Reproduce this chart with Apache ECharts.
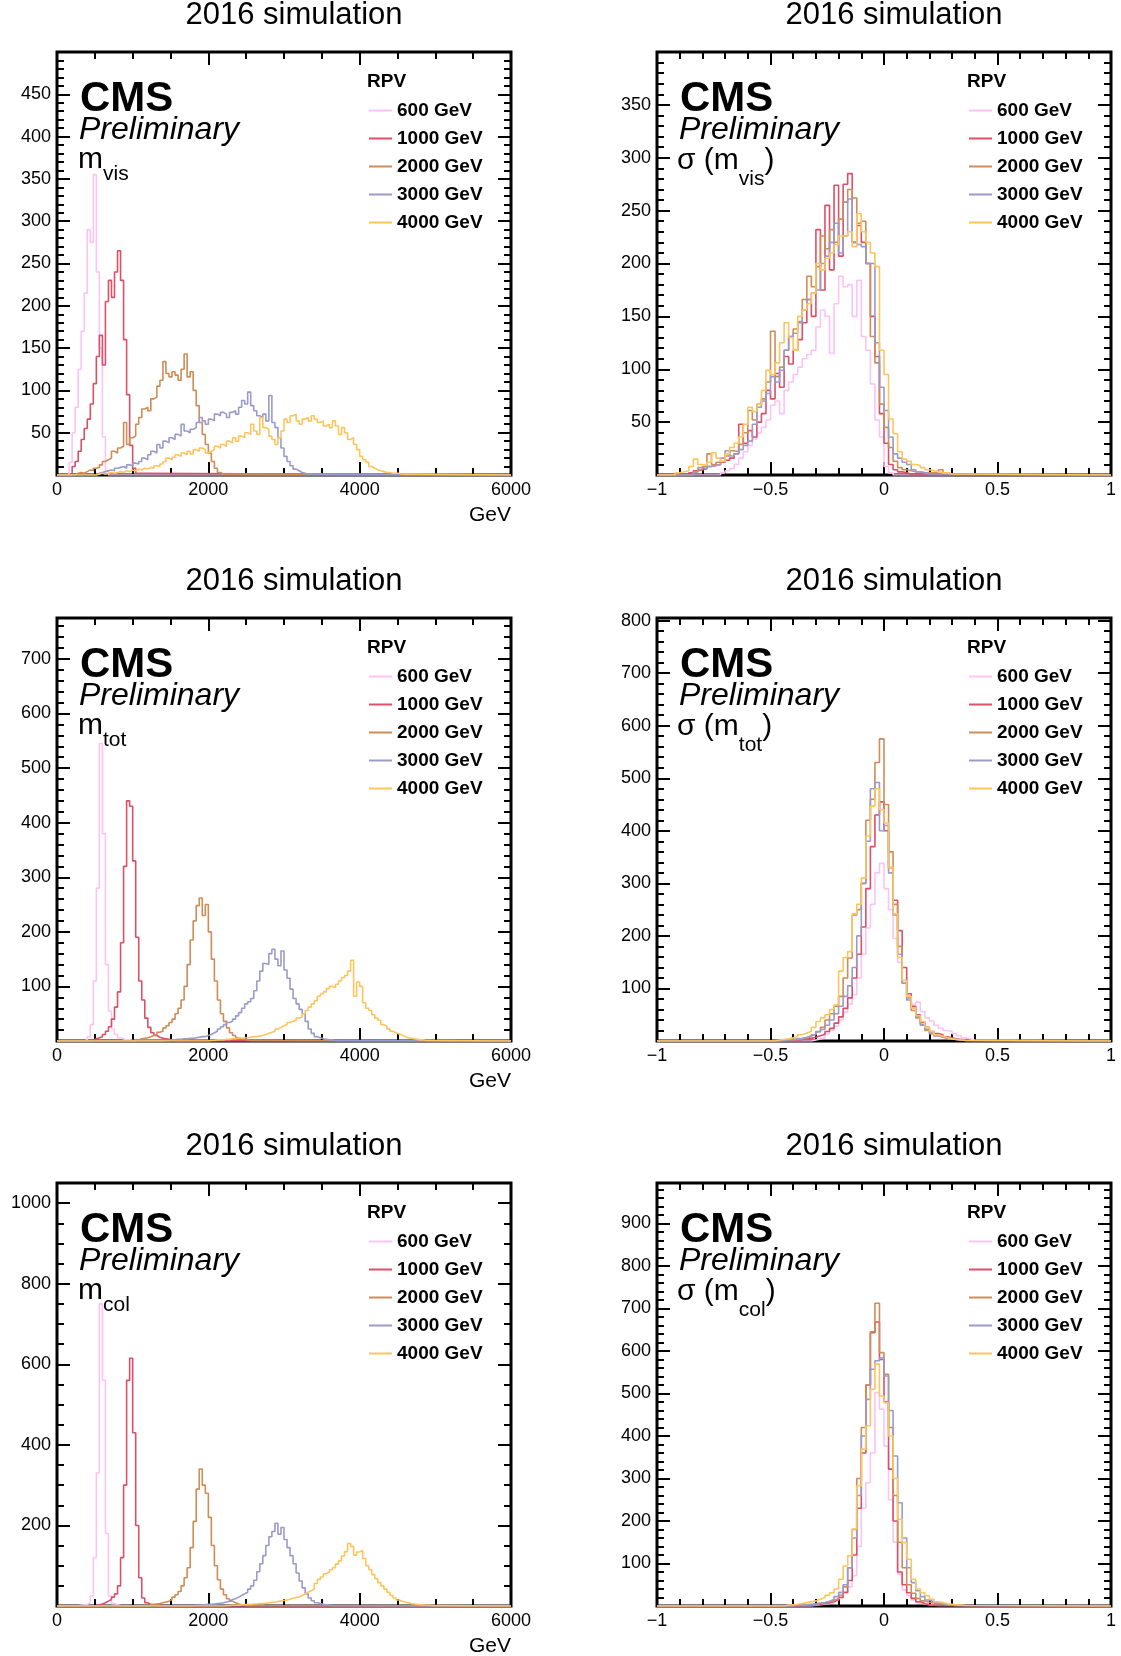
<!DOCTYPE html>
<html><head><meta charset="utf-8">
<script src="https://cdn.jsdelivr.net/npm/echarts@6.0.0/dist/echarts.min.js"></script>
<style>html,body{margin:0;padding:0;background:#fff}#c{width:1121px;height:1656px}</style>
</head><body><div id="c"></div>
<script>
// ---------------- DATA ----------------
const massNames = ['600 GeV','1000 GeV','2000 GeV','3000 GeV','4000 GeV'];
const massBinWidth = 40;      // GeV
const resBinWidth = 0.02;

// m_vis : first bin lower edge per sample, then counts
const mvisStart = [160, 200, 240, 520, 520];
const mvis600  = [15,50,80,125,170,215,290,275,355,240,150,45,5];
const mvis1000 = [10,16,28,42,55,66,84,108,140,165,130,205,230,210,240,265,230,160,95,35,8,2];
const mvis2000 = [2,3,2,4,6,5,8,9,12,16,18,20,28,26,32,34,62,36,44,46,60,68,78,80,76,90,92,105,112,134,120,116,122,118,112,125,143,116,122,100,82,62,48,36,26,16,8,3,1];
const mvis3000 = [2,3,4,5,6,5,8,9,10,8,12,11,14,13,16,20,18,24,28,26,36,32,40,38,44,42,48,46,60,52,50,54,56,62,68,64,60,66,64,72,70,74,72,68,74,76,72,80,88,84,98,82,76,70,68,72,64,94,62,56,44,32,22,16,11,7,5,3,2,1,1];
const mvis4000 = [1,2,1,2,3,2,3,4,3,5,4,6,5,7,6,8,7,9,8,11,10,13,16,20,18,21,24,22,26,24,28,25,30,28,32,30,26,28,30,34,32,36,34,40,38,44,40,46,44,50,48,60,52,48,68,56,54,46,42,36,44,52,66,62,70,72,64,60,66,68,64,70,66,62,64,58,60,56,64,58,48,56,50,42,44,36,30,22,18,15,10,8,6,5,4,3,3,2,2,2,1,1,1,1,1];

// m_tot
const mtotStart = [360, 440, 1040, 1400, 2000];
const mtot600  = [2,8,30,110,280,545,380,140,55,22,12,6,4,2,2,1,1];
const mtot1000 = [2,4,6,8,12,18,26,40,62,90,180,320,440,430,330,190,110,75,42,25,15,10,7,5,4,3,2,1];
const mtot2000 = [2,4,5,6,8,10,12,16,18,24,28,34,40,50,60,75,100,140,185,220,248,262,230,250,200,150,110,75,50,36,24,15,10,6,4,3,2,1];
const mtot3000 = [1,1,2,2,3,3,4,4,5,5,6,7,8,8,10,12,15,18,22,26,30,34,36,40,46,52,60,68,72,78,92,110,128,142,140,160,168,150,138,165,130,115,95,78,68,58,50,36,22,14,8,6,4,3,2,2,1,1];
const mtot4000 = [1,1,2,2,2,3,3,4,4,5,5,6,6,7,8,8,9,10,12,14,16,18,22,25,28,30,34,36,38,42,44,50,56,62,68,74,82,86,90,96,100,98,104,110,116,120,128,148,82,108,100,70,60,56,48,42,38,30,27,22,18,15,13,11,8,6,5,4,3,2,2,1,1,1];

// m_col
const mcolStart = [280, 520, 1200, 1800, 2200];
const mcol600  = [2,3,4,8,25,120,330,750,560,180,25,6,3,1];
const mcol1000 = [3,5,8,12,16,22,30,50,120,300,560,615,430,200,70,20,8,4,2,1];
const mcol2000 = [3,4,5,6,8,10,12,16,22,28,36,50,70,95,145,210,290,340,300,280,220,150,100,65,42,28,18,12,8,5,3,2,1];
const mcol3000 = [2,2,3,3,4,4,5,6,7,8,10,12,16,18,22,26,30,34,42,50,64,85,105,125,150,172,185,205,178,195,165,145,125,105,82,62,45,30,20,13,8,6,4,3,2,1];
const mcol4000 = [1,1,2,2,2,3,3,4,4,5,5,6,6,7,8,9,10,11,12,14,15,17,19,21,22,26,30,34,38,42,56,66,72,80,84,90,95,104,112,124,135,155,148,126,134,138,118,100,90,78,68,58,50,42,34,26,20,15,12,10,8,6,5,4,3,3,2,2,1,1];

// sigma(m_vis)
const smvisStart = [-0.72, -0.86, -0.84, -0.84, -0.92];
const smvis600  = [2,4,6,10,16,22,28,34,40,45,52,66,70,58,80,88,95,102,110,114,118,140,156,150,115,162,188,178,180,150,184,131,118,86,52,36,8,2];
const smvis1000 = [2,4,5,6,8,9,10,12,14,16,20,48,30,42,36,50,58,80,72,96,83,112,105,118,128,144,166,150,232,175,255,194,274,207,275,285,220,236,220,200,150,112,58,30,10,5,3,2,1];
const smvis2000 = [3,5,8,20,10,12,13,18,23,22,29,40,61,52,67,72,88,136,93,102,118,131,138,144,166,188,178,197,226,214,232,220,242,258,270,262,238,240,200,131,106,67,45,26,13,7,5,4,3,3,2,2,2,3,5,2,1];
const smvis3000 = [3,7,6,8,9,10,16,23,18,20,24,28,32,48,64,70,77,93,88,99,118,131,134,145,156,166,172,175,200,207,220,238,210,226,261,220,218,216,200,200,125,83,61,36,20,16,12,10,5,3,2,1];
const smvis4000 = [2,3,4,8,15,10,9,12,21,16,13,20,26,30,36,48,64,60,67,80,99,95,106,125,144,130,118,150,156,162,172,200,194,205,210,218,226,226,230,216,247,230,220,210,197,118,95,53,39,22,15,13,10,9,7,5,4,3,2,2,1];

// sigma(m_tot)
const smtotStart = [-0.32, -0.44, -0.46, -0.46, -0.48];
const smtot600  = [2,4,6,14,20,28,40,55,70,88,120,165,215,260,320,338,290,250,195,150,115,85,70,74,56,44,38,30,24,20,18,14,10,6,4,2];
const smtot1000 = [1,2,2,3,4,5,7,10,13,18,24,34,46,62,82,120,165,217,290,370,430,455,400,330,268,210,140,90,66,50,36,26,18,14,12,8,6,4,3,2,1];
const smtot2000 = [1,2,2,3,4,6,8,12,18,26,40,52,66,85,120,158,240,250,300,420,460,530,575,450,360,260,180,110,78,58,44,30,20,14,10,7,5,4,3,2,1];
const smtot3000 = [1,2,3,4,5,7,10,13,17,22,30,40,52,66,85,105,140,200,300,380,480,492,400,410,320,240,165,110,82,63,46,32,22,15,10,8,5,4,3,2,1];
const smtot4000 = [2,3,4,6,8,12,15,18,26,37,44,50,60,69,133,159,170,242,260,310,390,447,480,440,415,330,242,159,115,85,63,48,37,26,18,12,9,6,4,3,2,1];

// sigma(m_col)
const smcolStart = [-0.32, -0.40, -0.42, -0.40, -0.44];
const smcol600  = [2,3,5,6,8,14,22,31,45,71,140,230,290,360,502,463,376,250,150,75,38,24,14,8,5,3,2,1];
const smcol1000 = [1,1,2,2,3,4,6,8,10,14,20,32,60,120,230,360,520,643,668,580,480,322,200,80,50,31,18,10,6,3,2,1];
const smcol2000 = [1,2,2,3,4,5,7,8,10,13,17,26,45,90,180,300,420,520,645,712,596,545,420,260,150,90,50,30,18,12,9,7,5,4,3,2,1];
const smcol3000 = [1,2,2,3,4,6,8,11,15,22,32,50,90,160,260,400,486,557,577,584,541,460,353,243,160,90,55,36,22,14,10,7,5,3,2,1];
const smcol4000 = [2,3,4,6,8,10,12,16,20,25,31,40,63,94,118,181,283,369,424,510,569,494,478,400,300,204,149,110,63,40,31,24,16,10,8,5,4,3,2,1];

// axis ranges / ticks
const massRange = [0, 6000];
const resRange = [-1, 1];
const yMax = [500, 400, 775, 805, 1050, 995];
const yStep = [50, 50, 100, 100, 200, 100];
const yMinorSplit = [5, 5, 5, 5, 4, 5];
const varSub = ['vis', 'vis', 'tot', 'tot', 'col', 'col'];

// ---------------- LAYOUT / STYLE ----------------
const FONT = '"Liberation Sans", Arial, Helvetica, sans-serif';
const colors = ['#fcc3f6', '#dc4f66', '#d08c56', '#9a9acc', '#fdc55c'];
const colLeft = [57, 657];
const rowTop = [52, 618, 1183];
const PW = 454, PH = 423;

const panels = [
  {col:0,row:0,kind:'mass',starts:mvisStart,sets:[mvis600,mvis1000,mvis2000,mvis3000,mvis4000]},
  {col:1,row:0,kind:'res', starts:smvisStart,sets:[smvis600,smvis1000,smvis2000,smvis3000,smvis4000]},
  {col:0,row:1,kind:'mass',starts:mtotStart,sets:[mtot600,mtot1000,mtot2000,mtot3000,mtot4000]},
  {col:1,row:1,kind:'res', starts:smtotStart,sets:[smtot600,smtot1000,smtot2000,smtot3000,smtot4000]},
  {col:0,row:2,kind:'mass',starts:mcolStart,sets:[mcol600,mcol1000,mcol2000,mcol3000,mcol4000]},
  {col:1,row:2,kind:'res', starts:smcolStart,sets:[smcol600,smcol1000,smcol2000,smcol3000,smcol4000]}
];

function histPoints(start, w, counts, lo, hi) {
  const pts = [[lo, 0]];
  counts.forEach((c, i) => pts.push([+(start + i * w).toFixed(4), c]));
  pts.push([+(start + counts.length * w).toFixed(4), 0]);
  pts.push([hi, 0]);
  return pts;
}

const mctx = document.createElement('canvas').getContext('2d');
function tw(text, font) { mctx.font = font; return mctx.measureText(text).width; }

const grids = [], xAxes = [], yAxes = [], series = [], legends = [], graphics = [];
const tickStyle = {color:'#000', width:2};

panels.forEach((p, g) => {
  const L = colLeft[p.col], T = rowTop[p.row];
  const isMass = p.kind === 'mass';
  const range = isMass ? massRange : resRange;
  const w = isMass ? massBinWidth : resBinWidth;
  grids.push({left:L, top:T, width:PW, height:PH, show:true, borderColor:'#000', borderWidth:3,
              backgroundColor:'#fff', containLabel:false, outerBoundsMode:'none'});
  const xBase = {
    gridIndex:g, type:'value', min:range[0], max:range[1], interval: isMass ? 2000 : 0.5,
    axisLine:{show:false, onZero:false}, splitLine:{show:false}, minorSplitLine:{show:false},
    axisTick:{show:true, inside:true, length:13, lineStyle:tickStyle},
    minorTick:{show:true, splitNumber: isMass ? 4 : 5, length:7, lineStyle:tickStyle}
  };
  xAxes.push(Object.assign({}, xBase, {position:'bottom',
    axisLabel:{show:true, margin:6, fontSize:18, color:'#000', fontFamily:FONT, showMinLabel:true, showMaxLabel:true,
      formatter: v => isMass ? String(v) : (v === 0 ? '0' : (v < 0 ? '\u2212' : '') + Math.abs(v))}}));
  xAxes.push(Object.assign({}, xBase, {position:'top', axisLabel:{show:false}}));
  const yBase = {
    gridIndex:g, type:'value', min:0, max:yMax[g], interval:yStep[g],
    axisLine:{show:false, onZero:false}, splitLine:{show:false}, minorSplitLine:{show:false},
    axisTick:{show:true, inside:true, length:13, lineStyle:tickStyle},
    minorTick:{show:true, splitNumber:yMinorSplit[g], length:7, lineStyle:tickStyle}
  };
  yAxes.push(Object.assign({}, yBase, {position:'left',
    axisLabel:{show:true, margin:6, fontSize:18, color:'#000', fontFamily:FONT, showMinLabel:true, showMaxLabel:true,
      formatter: v => (v === 0 || v >= yMax[g] || Math.abs(v % yStep[g]) > 1e-6) ? '' : String(v)}}));
  yAxes.push(Object.assign({}, yBase, {position:'right', axisLabel:{show:false}}));

  p.sets.forEach((counts, k) => {
    series.push({
      type:'line', name:massNames[k], xAxisIndex:2*g, yAxisIndex:2*g,
      data: histPoints(p.starts[k], w, counts, range[0], range[1]),
      step:'end', symbol:'none', showSymbol:false, color:colors[k],
      itemStyle:{color:colors[k]}, lineStyle:{color:colors[k], width:1.6},
      animation:false, silent:true, clip:true, z:2+k
    });
  });

  legends.push({
    show:true, orient:'vertical', left:L+312, top:T+49, padding:0,
    itemWidth:23, itemHeight:2, itemGap:9, icon:'rect', selectedMode:false,
    data: massNames,
    textStyle:{fontSize:19, fontWeight:'bold', fontFamily:FONT, color:'#000', lineHeight:19}
  });

  const txt = (x, y, text, font, align) => graphics.push({type:'text', x, y, z:100, silent:true,
    style:{text, font, fill:'#000', align: align || 'left', verticalAlign:'middle',
           textAlign: align || 'left', textVerticalAlign:'middle'}});
  txt(L + 237, T - 37, '2016 simulation', '31px ' + FONT, 'center');
  txt(L + 23, T + 47, 'CMS', 'bold 42px ' + FONT);
  txt(L + 22, T + 78, 'Preliminary', 'italic 32px ' + FONT);
  txt(L + 310, T + 30, 'RPV', 'bold 19px ' + FONT);
  const fMain = '30px ' + FONT, fSub = '21px ' + FONT;
  if (isMass) {
    txt(L + 21, T + 108, 'm', fMain);
    txt(L + 21 + tw('m', fMain), T + 122, varSub[g], fSub);
    txt(L + PW, T + PH + 40, 'GeV', '21px ' + FONT, 'right');
  } else {
    const main = '\u03c3 (m';
    const x1 = L + 20 + tw(main, fMain);
    txt(L + 20, T + 109, main, fMain);
    txt(x1, T + 127, varSub[g], fSub);
    txt(x1 + tw(varSub[g], fSub), T + 109, ')', fMain);
  }
});

const chart = echarts.init(document.getElementById('c'), null, {renderer:'canvas', width:1121, height:1656});
chart.setOption({
  animation:false,
  backgroundColor:'#fff',
  grid:grids, xAxis:xAxes, yAxis:yAxes, series:series, legend:legends,
  graphic:{elements:graphics}
});
</script>
</body></html>
